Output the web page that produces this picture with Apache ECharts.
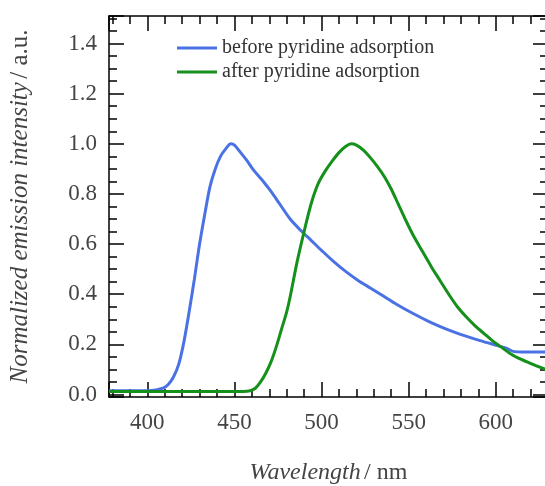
<!DOCTYPE html>
<html>
<head>
<meta charset="utf-8">
<script src="https://cdn.jsdelivr.net/npm/echarts@6/dist/echarts.min.js"></script>
<style>
  html, body { margin: 0; padding: 0; background: #fff; }
  #main { width: 545px; height: 486px; }
</style>
</head>
<body>
<div id="main"></div>
<script>
// emission spectra
var beforeX = [378, 390, 400, 405, 409, 412, 415, 418, 421, 424, 427, 430, 433, 436, 439, 442, 445, 448, 450, 453, 457, 461, 466, 471, 476, 482, 488, 494, 500, 507, 514, 521, 528, 535, 543, 552, 562, 572, 582, 591, 601, 606, 610, 615, 620, 630];
var beforeY = [0.015, 0.015, 0.015, 0.018, 0.025, 0.04, 0.07, 0.12, 0.21, 0.33, 0.46, 0.6, 0.72, 0.83, 0.9, 0.95, 0.98, 1.0, 0.995, 0.97, 0.935, 0.895, 0.855, 0.81, 0.76, 0.7, 0.655, 0.615, 0.575, 0.53, 0.49, 0.455, 0.425, 0.395, 0.36, 0.325, 0.29, 0.26, 0.235, 0.215, 0.195, 0.185, 0.172, 0.17, 0.17, 0.17];

var afterX = [378, 400, 430, 455, 459, 462, 465, 468, 471, 474, 477, 480, 482, 486, 490, 494, 498, 502, 506, 510, 514, 517, 520, 524, 528, 532, 536, 540, 544, 548, 553, 558, 563, 568, 573, 578, 583, 588, 593, 598, 603, 608, 613, 618, 623, 630];
var afterY = [0.012, 0.012, 0.012, 0.012, 0.015, 0.025, 0.05, 0.085, 0.13, 0.19, 0.26, 0.33, 0.39, 0.53, 0.65, 0.76, 0.84, 0.89, 0.93, 0.965, 0.99, 1.0, 0.995, 0.975, 0.945, 0.91, 0.87, 0.82, 0.76, 0.7, 0.63, 0.57, 0.51, 0.455, 0.4, 0.35, 0.31, 0.275, 0.245, 0.215, 0.19, 0.165, 0.145, 0.13, 0.115, 0.097];

var seriesNames = ["before pyridine adsorption", "after pyridine adsorption"];

function pairs(xs, ys) {
  var out = [];
  for (var i = 0; i < xs.length; i++) out.push([xs[i], ys[i]]);
  return out;
}

function onStep(v, step) {
  var k = v / step;
  return Math.abs(k - Math.round(k)) < 1e-6;
}

var serif = "Liberation Serif";
var frame = { show: true, onZero: false, lineStyle: { color: "#000", width: 1.5 } };
var tick = { show: true, inside: true, length: 15, lineStyle: { color: "#000", width: 1.5 } };
var minor = function (n) {
  return { show: true, splitNumber: n, length: 8, lineStyle: { color: "#000", width: 1.5 } };
};

var xBase = { type: "value", min: 378, max: 630, splitNumber: 5, axisLine: frame, axisTick: tick, minorTick: minor(5), splitLine: { show: false } };
var yBase = { type: "value", min: -0.01, max: 1.51, splitNumber: 7, axisLine: frame, axisTick: tick, minorTick: minor(4), splitLine: { show: false } };

var option = {
  animation: false,
  backgroundColor: "#fff",
  grid: { left: 109, top: 16, width: 439, height: 381, outerBoundsMode: "none", containLabel: false },
  legend: {
    orient: "vertical",
    left: 172,
    top: 33,
    itemWidth: 40,
    itemHeight: 3,
    itemGap: 4,
    icon: "rect",
    data: seriesNames,
    textStyle: { fontFamily: serif, fontSize: 20, color: "#333" }
  },
  xAxis: [
    Object.assign({}, xBase, {
      position: "bottom",
      axisLabel: {
        margin: 14, fontFamily: serif, fontSize: 23, color: "#444",
        formatter: function (v) { return onStep(v, 50) ? String(Math.round(v)) : ""; }
      },
      name: "{i|Wavelength} {n|/ nm}",
      nameLocation: "middle",
      nameGap: 64,
      nameTextStyle: {
        rich: {
          i: { fontFamily: serif, fontStyle: "italic", fontSize: 24, color: "#444" },
          n: { fontFamily: serif, fontSize: 24, color: "#444" }
        }
      }
    }),
    Object.assign({}, xBase, { position: "top", axisLabel: { show: false } })
  ],
  yAxis: [
    Object.assign({}, yBase, {
      position: "left",
      axisLabel: {
        margin: 12, fontFamily: serif, fontSize: 23, color: "#444",
        formatter: function (v) { return onStep(v, 0.2) ? v.toFixed(1) : ""; }
      },
      name: "{i|Normalized emission intensity} {n|/ a.u.}",
      nameLocation: "middle",
      nameRotate: 90,
      nameGap: 76,
      nameTextStyle: {
        rich: {
          i: { fontFamily: serif, fontStyle: "italic", fontSize: 25, color: "#444" },
          n: { fontFamily: serif, fontSize: 25, color: "#444" }
        }
      }
    }),
    Object.assign({}, yBase, { position: "right", axisLabel: { show: false } })
  ],
  series: [
    {
      name: seriesNames[0],
      type: "line",
      data: pairs(beforeX, beforeY),
      showSymbol: false,
      smooth: 0.3,
      color: "#4a72e4",
      lineStyle: { width: 3, color: "#4a72e4" }
    },
    {
      name: seriesNames[1],
      type: "line",
      data: pairs(afterX, afterY),
      showSymbol: false,
      smooth: 0.3,
      color: "#15901a",
      lineStyle: { width: 3, color: "#15901a" }
    }
  ]
};

var myChart = echarts.init(document.getElementById("main"));
myChart.setOption(option);
</script>
</body>
</html>
